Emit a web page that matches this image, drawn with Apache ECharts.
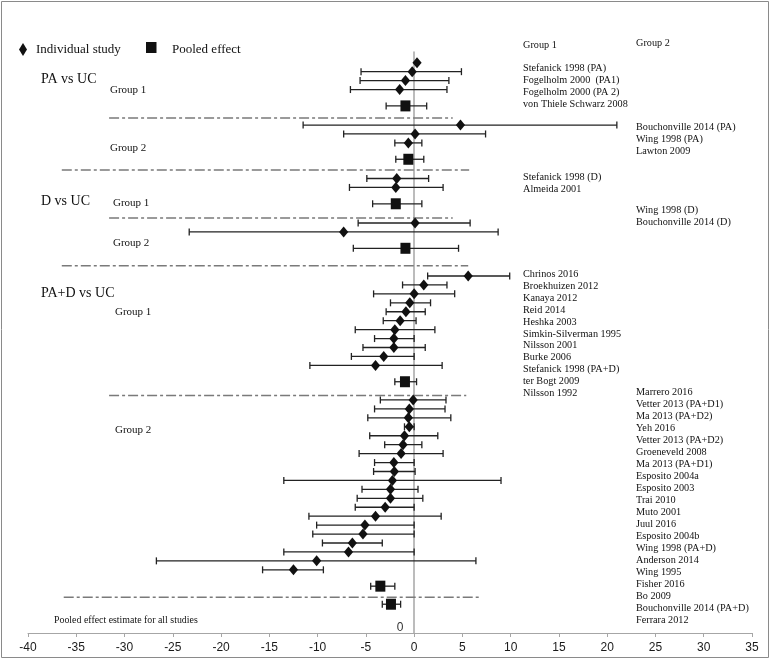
<!DOCTYPE html>
<html><head><meta charset="utf-8">
<script src="https://cdn.jsdelivr.net/npm/echarts@6/dist/echarts.min.js"></script>
<style>html,body{margin:0;padding:0;background:#fff}#c{width:771px;height:660px}</style>
</head><body><div id="c"></div>
<script>
// ---------- DATA (mean difference) ----------
// PA vs UC
const paG1Est = [0.3, -0.2, -0.9, -1.5];
const paG1Lo  = [null, -5.5, -5.6, -6.6];
const paG1Hi  = [null, 4.9, 3.6, 3.4];
const paG2Est = [4.8, 0.1, -0.6];
const paG2Lo  = [-11.5, -7.3, -2.0];
const paG2Hi  = [21.0, 7.4, 0.8];
// D vs UC
const dG1Est = [-1.8, -1.9];
const dG1Lo  = [-4.9, -6.7];
const dG1Hi  = [1.5, 3.0];
const dG2Est = [0.1, -7.3];
const dG2Lo  = [-5.8, -23.3];
const dG2Hi  = [5.8, 8.7];
// PA+D vs UC
const padG1Est = [5.6, 1.0, 0.0, -0.45, -0.85, -1.45, -2.0, -2.1, -2.1, -3.15, -4.0];
const padG1Lo  = [1.4, -1.2, -4.2, -2.45, -2.9, -3.2, -6.1, -4.1, -5.3, -6.5, -10.8];
const padG1Hi  = [9.9, 3.4, 4.2, 1.7, 1.15, 0.2, 2.15, 0.0, 1.15, 0.0, 2.9];
const padG2Est = [-0.1, -0.5, -0.6, -0.5, -1.0, -1.15, -1.35, -2.1, -2.05, -2.25, -2.45, -2.45, -3.0, -4.0, -5.1, -5.3, -6.4, -6.8, -10.1, -12.5];
const padG2Lo  = [-3.5, -4.1, -4.8, -1.0, -4.6, -3.05, -5.7, -4.1, -4.2, -13.5, -5.4, -5.9, -6.1, -10.9, -10.1, -10.5, -9.5, -13.5, -26.7, -15.7];
const padG2Hi  = [3.3, 3.2, 3.8, 0.0, 2.45, 0.8, 3.0, 0.0, 0.1, 9.0, 0.4, 0.9, 0.0, 2.8, 0.0, 0.0, -3.3, 0.0, 6.4, -9.4];
// pooled effects: PA G1, PA G2, D G1, D G2, PA+D G1, PA+D G2
const pooledEst = [-0.9, -0.6, -1.9, -0.9, -0.95, -3.5];
const pooledLo  = [-2.9, -1.9, -4.3, -6.3, -2.0, -4.5];
const pooledHi  = [1.3, 1.0, 0.8, 4.6, 0.25, -2.0];
// pooled effect estimate for all studies
const overallEst = [-2.4];
const overallLo  = [-3.3];
const overallHi  = [-1.4];

// study names
const paG1Names = ["Stefanick 1998 (PA)", "Fogelholm 2000  (PA1)", "Fogelholm 2000 (PA 2)", "von Thiele Schwarz 2008"];
const paG2Names = ["Bouchonville 2014 (PA)", "Wing 1998 (PA)", "Lawton 2009"];
const dG1Names = ["Stefanick 1998 (D)", "Almeida 2001"];
const dG2Names = ["Wing 1998 (D)", "Bouchonville 2014 (D)"];
const padG1Names = ["Chrinos 2016", "Broekhuizen 2012", "Kanaya 2012", "Reid 2014", "Heshka 2003", "Simkin-Silverman 1995", "Nilsson 2001", "Burke 2006", "Stefanick 1998 (PA+D)", "ter Bogt 2009", "Nilsson 1992"];
const padG2Names = ["Marrero 2016", "Vetter 2013 (PA+D1)", "Ma 2013 (PA+D2)", "Yeh 2016", "Vetter 2013 (PA+D2)", "Groeneveld 2008", "Ma 2013 (PA+D1)", "Esposito 2004a", "Esposito 2003", "Trai 2010", "Muto 2001", "Juul 2016", "Esposito 2004b", "Wing 1998 (PA+D)", "Anderson 2014", "Wing 1995", "Fisher 2016", "Bo 2009", "Bouchonville 2014 (PA+D)", "Ferrara 2012"];
const comparisons = ["PA vs UC", "D vs UC", "PA+D vs UC"];
const groupNames = ["Group 1", "Group 2"];

// ---------- LAYOUT ----------
const groupStartRow = [1.2, 8.17, 14.15, 19.13, 25.06, 38.93];
const pooledGap = 1.83;
const overallRow = 61.78;
const separators = [ // [fromX, toX, row]
  [-31.6, 4.0, 7.38], [-36.5, 5.7, 13.2], [-31.6, 4.0, 18.57],
  [-36.5, 5.6, 23.9], [-31.6, 5.4, 38.42], [-36.3, 6.7, 61.0]
];

const groups = [
  [paG1Est, paG1Lo, paG1Hi], [paG2Est, paG2Lo, paG2Hi],
  [dG1Est, dG1Lo, dG1Hi], [dG2Est, dG2Lo, dG2Hi],
  [padG1Est, padG1Lo, padG1Hi], [padG2Est, padG2Lo, padG2Hi]
];
const studyData = [];
const pooledData = [];
groups.forEach((g, gi) => {
  const [e, l, h] = g;
  e.forEach((v, i) => {
    const has = l[i] != null;
    studyData.push([v, has ? l[i] : v, has ? h[i] : v, groupStartRow[gi] + i, has ? 1 : 0]);
  });
  pooledData.push([pooledEst[gi], pooledLo[gi], pooledHi[gi], groupStartRow[gi] + e.length - 1 + pooledGap, 1]);
});
pooledData.push([overallEst[0], overallLo[0], overallHi[0], overallRow, 1]);

const INK = '#111';
function makeRender(shape) {
  return function (params, api) {
    const est = api.value(0), lo = api.value(1), hi = api.value(2), row = api.value(3), has = api.value(4);
    const p = api.coord([est, row]);
    const ch = [];
    if (has) {
      const a = api.coord([lo, row]), b = api.coord([hi, row]);
      const st = { stroke: '#222', lineWidth: 1.3 };
      ch.push({ type: 'line', shape: { x1: a[0], y1: a[1], x2: b[0], y2: b[1] }, style: st });
      ch.push({ type: 'line', shape: { x1: a[0], y1: a[1] - 3.5, x2: a[0], y2: a[1] + 3.5 }, style: st });
      ch.push({ type: 'line', shape: { x1: b[0], y1: b[1] - 3.5, x2: b[0], y2: b[1] + 3.5 }, style: st });
    }
    if (shape === 'diamond') {
      ch.push({ type: 'polygon', shape: { points: [[p[0], p[1] - 5.5], [p[0] + 4.6, p[1]], [p[0], p[1] + 5.5], [p[0] - 4.6, p[1]]] }, style: { fill: INK } });
    } else {
      ch.push({ type: 'rect', shape: { x: p[0] - 5, y: p[1] - 5.5, width: 10, height: 11 }, style: { fill: INK } });
    }
    return { type: 'group', children: ch };
  };
}

const SERIF = '"Liberation Serif", "Times New Roman", serif';
const graphics = [];
function txt(text, x, y, size, sx) {
  graphics.push({ type: 'text', x: x, y: y, scaleX: sx || 1, style: { text: text, font: size + 'px ' + SERIF, fill: '#111', textVerticalAlign: 'middle', verticalAlign: 'middle', textAlign: 'left', align: 'left' } });
}
function block(names, x, firstY, lh, size, sx) {
  graphics.push({ type: 'text', x: x, y: firstY - lh / 2, scaleX: sx || 1, style: { text: names.join('\n'), font: size + 'px ' + SERIF, lineHeight: lh, fill: '#111', textVerticalAlign: 'top', verticalAlign: 'top', textAlign: 'left', align: 'left' } });
}
// border
graphics.push({ type: 'rect', shape: { x: 1.5, y: 1.5, width: 767, height: 656 }, style: { fill: null, stroke: '#8a8a8a', lineWidth: 1 } });
// legend
graphics.push({ type: 'polygon', shape: { points: [[23, 43], [27, 49.5], [23, 56], [19, 49.5]] }, style: { fill: INK } });
txt('Individual study', 36, 49.5, 13);
graphics.push({ type: 'rect', shape: { x: 146, y: 42, width: 10.5, height: 11 }, style: { fill: INK } });
txt('Pooled effect', 172, 49.5, 13);
// column headers
txt(groupNames[0], 523, 45.5, 11, 0.93);
txt(groupNames[1], 636, 43, 11, 0.93);
// comparisons and groups (left)
txt(comparisons[0], 41, 79, 14);
txt(groupNames[0], 110, 90.5, 11);
txt(groupNames[1], 110, 148, 11);
txt(comparisons[1], 41, 201, 14);
txt(groupNames[0], 113, 203.5, 11);
txt(groupNames[1], 113, 243, 11);
txt(comparisons[2], 41, 293.5, 14);
txt(groupNames[0], 115, 312.5, 11);
txt(groupNames[1], 115, 430, 11);
txt('Pooled effect estimate for all studies', 54, 620, 10.4, 0.95);
// study name columns
const SX = 0.93;
block(paG1Names, 523, 68, 12.2, 11, SX);
block(dG1Names, 523, 177, 12.2, 11, SX);
block(padG1Names, 523, 274, 11.93, 11, SX);
block(paG2Names, 636, 127, 12, 11, SX);
block(dG2Names, 636, 210, 12, 11, SX);
block(padG2Names, 636, 391.7, 12.02, 11, SX);
// stray zero label near axis
graphics.push({ type: 'text', x: 400, y: 628, style: { text: '0', font: '12px "Liberation Sans", Arial, sans-serif', fill: '#333', textAlign: 'center', align: 'center', textVerticalAlign: 'middle', verticalAlign: 'middle' } });

const chart = echarts.init(document.getElementById('c'), null, { renderer: 'canvas' });
chart.setOption({
  animation: false,
  backgroundColor: '#fff',
  grid: { left: 28, right: 19, top: 52, bottom: 27, containLabel: false },
  xAxis: {
    type: 'value', min: -40, max: 35, interval: 5,
    axisLine: { onZero: false, lineStyle: { color: '#a6a6a6', width: 1 } },
    axisTick: { show: true, length: 4, lineStyle: { color: '#a6a6a6' } },
    axisLabel: { color: '#1a1a1a', fontFamily: '"Liberation Sans", Arial, sans-serif', fontSize: 12, margin: 9 },
    splitLine: { show: false }
  },
  yAxis: {
    type: 'value', inverse: true, min: 0, max: 65,
    axisLine: { show: true, onZero: true, lineStyle: { color: '#a6a6a6', width: 1.5 } },
    axisTick: { show: false }, axisLabel: { show: false }, splitLine: { show: false }
  },
  series: [
    {
      type: 'custom', name: 'separators', data: separators, clip: false,
      encode: { x: [0, 1], y: 2 },
      renderItem: function (params, api) {
        const a = api.coord([api.value(0), api.value(2)]), b = api.coord([api.value(1), api.value(2)]);
        return { type: 'line', shape: { x1: a[0], y1: a[1], x2: b[0], y2: b[1] }, style: { stroke: '#7a7a7a', lineWidth: 1.5, lineDash: [10, 3, 3, 3] } };
      }
    },
    { type: 'custom', name: 'Individual study', data: studyData, clip: false, encode: { x: [0, 1, 2], y: 3 }, renderItem: makeRender('diamond') },
    { type: 'custom', name: 'Pooled effect', data: pooledData, clip: false, encode: { x: [0, 1, 2], y: 3 }, renderItem: makeRender('square') }
  ],
  graphic: graphics
});
</script>
</body></html>
